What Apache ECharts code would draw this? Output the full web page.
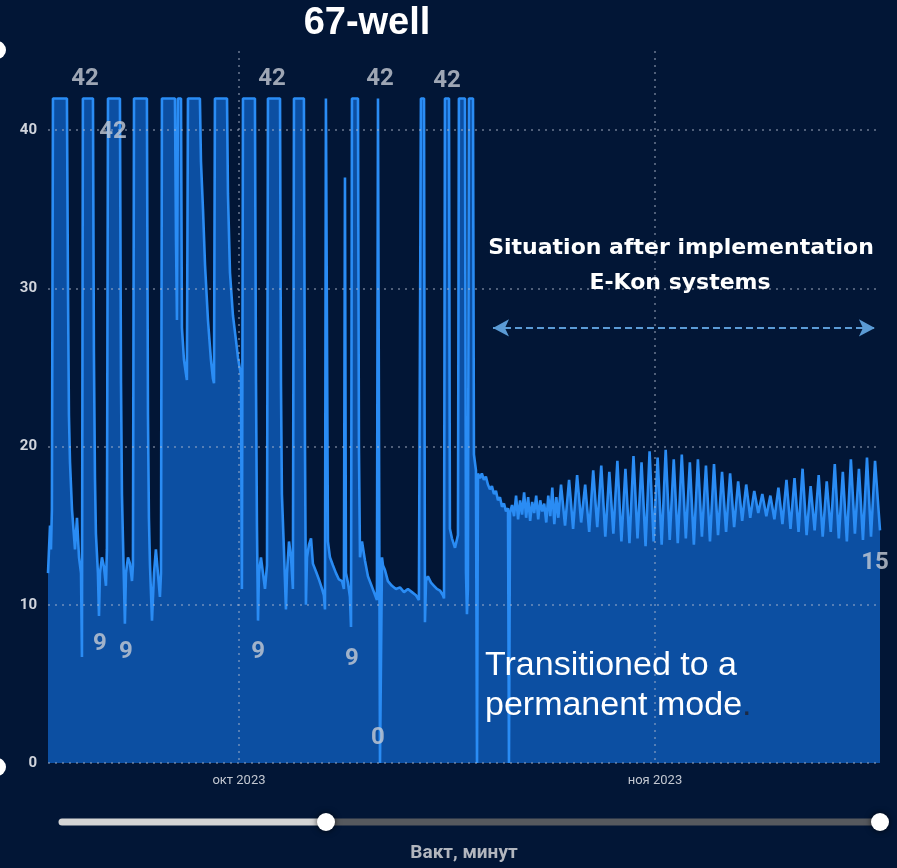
<!DOCTYPE html>
<html><head><meta charset="utf-8">
<script src="https://cdn.jsdelivr.net/npm/echarts@6/dist/echarts.min.js"></script>
<style>html,body{margin:0;padding:0;background:#021636;}#c{width:897px;height:868px;}</style>
</head><body><div id="c"></div>
<script>
// readings: [days from 1 Oct 2023, flow value]
const flowReadings = [
[-14.23,12],[-14.08,15],[-14.01,13.5],[-13.94,16],[-13.86,42],[-12.82,42],[-12.74,30],[-12.67,22],[-12.59,19],[-12.44,16],
[-12.22,13.5],[-12.07,15.5],[-11.92,13],[-11.77,12],[-11.70,6.7],[-11.63,42],[-10.88,42],[-10.81,26],[-10.73,18],[-10.66,14.5],
[-10.51,12],[-10.43,9.3],[-10.36,12],[-10.21,13],[-10.06,12.4],[-9.91,11.2],[-9.84,13.5],[-9.76,42],[-8.87,42],[-8.79,24],
[-8.72,17],[-8.64,14],[-8.50,8.8],[-8.42,12],[-8.27,13],[-8.12,12.6],[-7.97,11.5],[-7.90,12.5],[-7.82,42],[-6.86,42],
[-6.78,22],[-6.71,15.5],[-6.63,12.5],[-6.48,9],[-6.33,12],[-6.19,13.5],[-6.04,12],[-5.89,10.5],[-5.81,12],[-5.74,42],
[-4.77,42],[-4.69,33],[-4.62,28],[-4.55,42],[-4.32,42],[-4.25,27.5],[-4.10,25.5],[-3.95,24.6],[-3.88,24.2],[-3.80,42],
[-2.91,42],[-2.83,38],[-2.68,35],[-2.53,31.5],[-2.31,28],[-2.09,25.5],[-1.94,24.3],[-1.86,24],[-1.79,42],[-0.89,42],
[-0.82,36],[-0.67,31],[-0.45,28.3],[-0.22,26.7],[-0.07,25.6],[0.15,24.5],[0.22,11],[0.30,42],[1.19,42],[1.27,24],
[1.34,15],[1.42,9],[1.49,12],[1.64,13],[1.79,12],[1.94,11],[2.09,12.5],[2.16,42],[3.06,42],[3.13,24],
[3.20,17],[3.35,13.5],[3.50,9.7],[3.58,12],[3.73,14],[3.88,13],[4.02,11],[4.10,42],[4.84,42],[4.92,20],
[4.99,10],[5.07,13],[5.22,13.8],[5.37,14.2],[5.51,12.6],[5.74,12.1],[5.96,11.6],[6.19,11],[6.33,10.6],[6.41,9.7],
[6.48,42],[6.56,42],[6.63,14],[6.78,13],[7.00,12.5],[7.23,12],[7.45,11.6],[7.68,11.5],[7.82,11],[7.90,37],
[7.97,12],[8.12,11.4],[8.27,10.5],[8.35,8.6],[8.42,42],[8.87,42],[8.94,20],[9.02,13],[9.17,14],[9.39,12.8],
[9.61,11.8],[9.84,11.3],[10.06,10.8],[10.28,10.3],[10.36,42],[10.43,42],[10.51,0],[10.58,0],[10.66,13],[10.73,12.5],
[10.88,12.2],[11.10,11.5],[11.40,11.2],[11.70,11.0],[12.00,11.1],[12.30,10.8],[12.59,11.0],[12.89,10.8],[13.19,10.6],[13.41,10.3],
[13.49,10.2],[13.56,42],[13.79,42],[13.86,8.9],[13.94,11.5],[14.08,11.8],[14.31,11.4],[14.53,11.2],[14.75,11.0],[14.98,10.9],
[15.20,10.6],[15.28,10.4],[15.35,42],[15.65,42],[15.72,14.8],[15.87,14.2],[16.10,13.6],[16.32,14.4],[16.39,42],[16.84,42],
[16.92,12],[16.99,9.4],[17.06,11],[17.14,42],[17.44,42],[17.51,19.5],[17.66,18.5],[17.74,0],[17.81,18.3],[17.96,18.0],
[18.10,18.3],[18.25,17.9],[18.40,18.1],[18.55,17.6],[18.70,17.3],[18.85,17.5],[19.00,17.0],[19.15,17.2],[19.30,16.6],[19.45,16.8],
[19.60,16.2],[19.75,16.4],[19.90,15.9],[20.05,16.1],[20.12,0],[20.20,15.8],[20.35,16.3],[20.50,15.6],[20.65,16.9],[20.80,15.4],
[20.95,16.6],[21.10,15.7],[21.25,17.1],[21.40,15.5],[21.55,16.8],[21.70,15.3],[21.85,16.5],[22.00,15.8],[22.15,16.9],[22.30,15.4],
[22.45,16.6],[22.60,15.9],[22.75,16.4],[22.90,15.2],[23.05,16.9],[23.20,15.6],[23.35,17.4],[23.50,15.1],[23.65,16.8],[23.80,15.5],
[24.00,17.6],[24.30,15.0],[24.60,17.9],[24.90,14.8],[25.20,18.2],[25.50,15.2],[25.80,17.6],[26.10,14.6],[26.40,18.5],[26.70,14.9],
[27.00,18.8],[27.30,14.3],[27.60,18.4],[27.90,14.5],[28.20,19.1],[28.50,14.0],[28.80,18.6],[29.10,13.9],[29.40,19.4],[29.70,14.2],
[30.00,19.0],[30.30,13.7],[30.60,19.7],[30.90,14.0],[31.20,19.3],[31.50,13.8],[31.80,19.8],[32.10,14.1],[32.40,19.2],[32.70,13.9],
[33.00,19.5],[33.30,14.2],[33.60,19.0],[33.90,13.8],[34.20,19.2],[34.50,14.3],[34.80,18.8],[35.10,14.0],[35.40,18.9],[35.70,14.4],
[36.00,18.4],[36.30,14.6],[36.60,18.3],[36.90,14.9],[37.20,17.8],[37.50,15.3],[37.80,17.6],[38.10,15.5],[38.40,17.2],[38.70,15.8],
[39.00,17.0],[39.30,15.6],[39.60,16.9],[39.90,15.4],[40.20,17.4],[40.50,15.1],[40.80,17.9],[41.10,14.8],[41.40,18.0],[41.70,14.6],
[42.00,18.6],[42.30,14.4],[42.60,17.5],[42.90,14.7],[43.20,18.2],[43.50,14.3],[43.80,17.8],[44.10,14.6],[44.40,18.9],[44.70,14.2],
[45.00,18.4],[45.30,14.0],[45.60,19.2],[45.90,14.5],[46.20,18.6],[46.50,14.1],[46.80,19.3],[47.10,14.3],[47.40,19.1],[47.77,14.7]
];
const labelDays = [-11.48, -9.39, 2.46, 10.51, 15.50, -10.36, -8.42, 1.42, 8.42, 10.36, 47.39];
const labelValues = [42, 42, 42, 42, 42, 9, 9, 9, 9, 0, 15];
const monthDays = [0, 31];
const monthLabels = ['окт 2023', 'ноя 2023'];
const yTicks = [0, 10, 20, 30, 40];
const arrowDays = [18.93, 47.39];
const arrowLevel = 27.5;

const labelNudge = [-19, 34, -19, -19, -17, 23, 31, 31, 38, -25, 37];
const gridLine = {type: [2, 5], color: 'rgba(175,185,205,0.6)', width: 1.5};
const numFont = "Roboto,'Liberation Sans',sans-serif";

const chart = echarts.init(document.getElementById('c'));
chart.setOption({
  animation: false,
  backgroundColor: '#021636',
  grid: {left: 48, right: 17, top: 51, bottom: 101},
  xAxis: {
    type: 'value',
    min: flowReadings[0][0],
    max: flowReadings[flowReadings.length - 1][0],
    z: 3,
    axisLine: {show: false},
    axisTick: {show: false, customValues: monthDays},
    axisLabel: {
      customValues: monthDays,
      margin: 11, color: '#c2c7d0', fontSize: 13, fontFamily: numFont,
      formatter: v => {
        const i = monthDays.findIndex(d => Math.abs(d - v) < 0.01);
        return i >= 0 ? monthLabels[i] : '';
      }
    },
    splitLine: {show: true, lineStyle: gridLine},
    name: 'Вакт, минут', nameLocation: 'middle', nameGap: 81,
    nameTextStyle: {color: '#b2b6be', fontSize: 19, fontWeight: 'bold', fontFamily: numFont}
  },
  yAxis: {
    type: 'value', min: 0, max: 45, z: 3,
    axisLine: {show: false},
    axisTick: {show: false, customValues: yTicks},
    axisLabel: {customValues: yTicks, color: '#d0d4dc', fontSize: 15, fontWeight: 'bold', margin: 11, fontFamily: numFont},
    splitLine: {show: true, lineStyle: gridLine}
  },
  series: [
    {
      type: 'line', name: 'flow', showSymbol: false, symbol: 'none', z: 2,
      data: flowReadings,
      lineStyle: {color: '#2a8cf4', width: 2.6},
      areaStyle: {color: '#0c4fa2', opacity: 1},
      markLine: {
        silent: true, symbol: ['arrow', 'arrow'], symbolSize: [13, 16],
        label: {show: false},
        lineStyle: {type: [7, 4], color: '#5b9bd5', width: 2},
        data: [[{coord: [arrowDays[0], arrowLevel]}, {coord: [arrowDays[1], arrowLevel]}]]
      }
    },
    {
      type: 'scatter', symbolSize: 0, z: 5, silent: true,
      data: labelDays.map((d, i) => ({value: [d, labelValues[i]], label: {offset: [0, labelNudge[i]]}})),
      label: {
        show: true, position: 'inside', formatter: p => String(p.value[1]),
        color: '#c6cbd4', fontSize: 24, fontWeight: 'bold', fontFamily: numFont
      }
    }
  ],
  graphic: [
    {type: 'text', z: 100, x: 367, y: 24, style: {text: '67-well', fill: '#ffffff', font: "bold 38px 'Liberation Sans', Arial, sans-serif", textAlign: 'center', textVerticalAlign: 'middle'}},
    {type: 'text', z: 100, x: 681, y: 248, style: {text: 'Situation after implementation', fill: '#ffffff', font: "bold 22px 'DejaVu Sans', sans-serif", textAlign: 'center', textVerticalAlign: 'middle'}},
    {type: 'text', z: 100, x: 680, y: 283, style: {text: 'E-Kon systems', fill: '#ffffff', font: "bold 22px 'DejaVu Sans', sans-serif", textAlign: 'center', textVerticalAlign: 'middle'}},
    {type: 'text', z: 100, x: 485, y: 646, style: {
      text: '{w|Transitioned to a}\n{w|permanent mode}{d|.}',
      textAlign: 'left', textVerticalAlign: 'top',
      rich: {
        w: {fill: '#ffffff', fontSize: 34, fontFamily: "'Liberation Sans', Arial, sans-serif", lineHeight: 40},
        d: {fill: '#1b2a45', fontSize: 34, fontFamily: "'Liberation Sans', Arial, sans-serif", lineHeight: 40}
      }
    }},
    {type: 'line', z: 100, shape: {x1: 62, y1: 822, x2: 326, y2: 822}, style: {stroke: '#d4d4d4', lineWidth: 7, lineCap: 'round'}},
    {type: 'line', z: 100, shape: {x1: 326, y1: 822, x2: 880, y2: 822}, style: {stroke: '#56595e', lineWidth: 7, lineCap: 'round'}},
    {type: 'circle', z: 101, shape: {cx: 326, cy: 822, r: 9}, style: {fill: '#ffffff', shadowBlur: 6, shadowColor: 'rgba(0,0,0,0.7)'}},
    {type: 'circle', z: 101, shape: {cx: 880, cy: 822, r: 9}, style: {fill: '#ffffff', shadowBlur: 6, shadowColor: 'rgba(0,0,0,0.7)'}},
    {type: 'circle', z: 101, shape: {cx: -3, cy: 50, r: 9}, style: {fill: '#ffffff'}},
    {type: 'circle', z: 101, shape: {cx: -3, cy: 767, r: 9}, style: {fill: '#ffffff'}}
  ]
});
</script>
</body></html>
